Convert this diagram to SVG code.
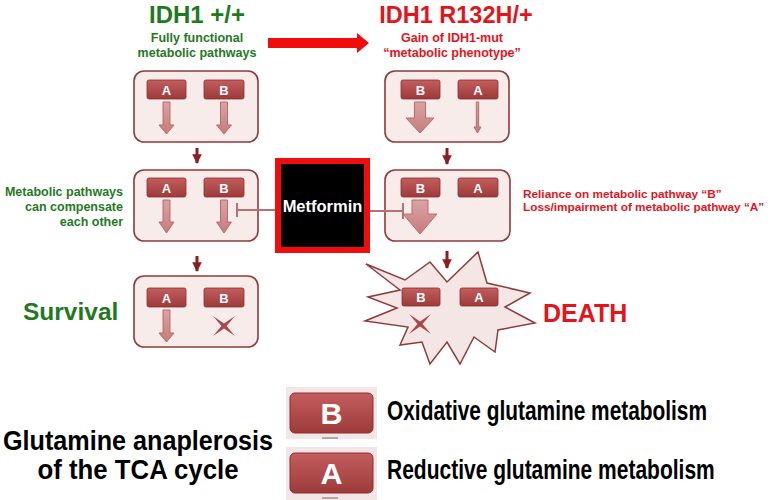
<svg xmlns="http://www.w3.org/2000/svg" width="780" height="500" viewBox="0 0 780 500">
<defs>
<linearGradient id="bg" x1="0" y1="0" x2="0" y2="1">
<stop offset="0" stop-color="#c45e5e"/><stop offset="1" stop-color="#9c3a3a"/>
</linearGradient>
<linearGradient id="ag" x1="0" y1="0" x2="0" y2="1">
<stop offset="0" stop-color="#d9a3a3"/><stop offset="1" stop-color="#c77c7c"/>
</linearGradient>
<marker id="dh" viewBox="0 0 10 10" refX="9" refY="5" markerWidth="3.2" markerHeight="3.2" orient="auto" markerUnits="strokeWidth">
<path d="M0,0 L10,5 L0,10 z" fill="#8b1e1e"/>
</marker>
</defs>
<style>
text{font-family:"Liberation Sans",Arial,Helvetica,sans-serif;font-weight:bold}
.box{fill:#f7ecea;stroke:#8e3b3b;stroke-width:1.6}
.badge{fill:url(#bg);stroke:#8a2f2f;stroke-width:0.8}
.bl{fill:#fff;font-size:13px;text-anchor:middle}
.arr{fill:url(#ag);stroke:#b86262;stroke-width:0.9}
.xm{fill:#a84848}
.green{fill:#1f7a1f}
.red{fill:#e5141c}
.conn{stroke:#8b1e1e;stroke-width:3;fill:none}
.inh{stroke:#b87070;stroke-width:2;fill:none}
.lbadge{fill:url(#bg);stroke:#8a2f2f;stroke-width:1}
.lback{fill:#f4e6e6}
.ll{fill:#fff;font-size:30px;text-anchor:middle}
.leg{fill:#000;font-size:27px}
</style>
<rect width="780" height="500" fill="#fff"/>

<!-- headers -->
<g id="hdr-wt">
<text x="197" y="23" class="green" font-size="24" text-anchor="middle">IDH1 +/+</text>
<text x="197" y="42" class="green" font-size="12.5" text-anchor="middle">Fully functional</text>
<text x="197" y="57" class="green" font-size="12.5" text-anchor="middle">metabolic pathways</text>
</g>
<g id="hdr-mut">
<text x="456" y="23" class="red" font-size="23.5" text-anchor="middle">IDH1 R132H/+</text>
<text x="452" y="42" class="red" font-size="12.5" text-anchor="middle">Gain of IDH1-mut</text>
<text x="452" y="57" class="red" font-size="12.5" text-anchor="middle">“metabolic phenotype”</text>
</g>
<g id="big-arrow">
<polygon points="268,38 357,38 357,33 369,43 357,53 357,48 268,48" fill="#f20d0d"/>
</g>

<!-- left column -->
<g id="wt-1">
<rect class="box" x="134" y="71" width="124" height="71" rx="10"/>
<rect class="badge" x="147" y="80" width="39" height="19" rx="2"/>
<text class="bl" x="166.5" y="94.5">A</text>
<rect class="badge" x="204" y="80" width="40" height="19" rx="2"/>
<text class="bl" x="224" y="94.5">B</text>
<polygon class="arr" points="163,102 170,102 170,125 174,125 166.5,134 159,125 163,125"/>
<polygon class="arr" points="220.5,102 227.5,102 227.5,125 231.5,125 224,134 216.5,125 220.5,125"/>
</g>
<g id="wt-2">
<rect class="box" x="134" y="170" width="124" height="71" rx="10"/>
<rect class="badge" x="147" y="178" width="39" height="19" rx="2"/>
<text class="bl" x="166.5" y="192.5">A</text>
<rect class="badge" x="204" y="178" width="40" height="19" rx="2"/>
<text class="bl" x="224" y="192.5">B</text>
<polygon class="arr" points="163,200 170,200 170,222 174,222 166.5,233 159,222 163,222"/>
<polygon class="arr" points="220.5,200 227.5,200 227.5,222 231.5,222 224,233 216.5,222 220.5,222"/>
</g>
<g id="wt-3">
<rect class="box" x="134" y="276" width="124" height="71" rx="10"/>
<rect class="badge" x="147" y="288" width="39" height="19" rx="2"/>
<text class="bl" x="166.5" y="302.5">A</text>
<rect class="badge" x="204" y="288" width="40" height="19" rx="2"/>
<text class="bl" x="224" y="302.5">B</text>
<polygon class="arr" points="163,310 170,310 170,333 174,333 166.5,342 159,333 163,333"/>
<polygon class="xm" points="213,316 224,323.5 235,316 226.5,326 235,336 224,328.5 213,336 221.5,326"/>
</g>
<g id="wt-note">
<text class="green" font-size="12.5" text-anchor="end" x="123" y="196">Metabolic pathways</text>
<text class="green" font-size="12.5" text-anchor="end" x="123" y="211">can compensate</text>
<text class="green" font-size="12.5" text-anchor="end" x="123" y="226">each other</text>
</g>
<g id="survival">
<text class="green" font-size="24.5" x="23" y="320">Survival</text>
</g>

<!-- metformin -->
<g id="metformin">
<rect x="278" y="161" width="89" height="89" fill="#000" stroke="#f00d0d" stroke-width="6"/>
<text x="322.5" y="212" fill="#fff" font-size="16.5" text-anchor="middle">Metformin</text>
</g>

<!-- right column -->
<g id="mut-1">
<rect class="box" x="385" y="71" width="124" height="71" rx="10"/>
<rect class="badge" x="401" y="80" width="39" height="19" rx="2"/>
<text class="bl" x="420.5" y="94.5">B</text>
<rect class="badge" x="458" y="80" width="40" height="19" rx="2"/>
<text class="bl" x="478" y="94.5">A</text>
<polygon class="arr" points="414.5,102 425.5,102 425.5,118 434,118 420,133 406,118 414.5,118"/>
<polygon class="arr" points="476.3,102 478.7,102 478.7,127 481,127 477.5,133 474,127 476.3,127"/>
</g>
<g id="mut-2">
<rect class="box" x="385" y="170" width="125" height="71" rx="10"/>
<rect class="badge" x="401" y="178" width="39" height="19" rx="2"/>
<text class="bl" x="420.5" y="192.5">B</text>
<rect class="badge" x="458" y="178" width="40" height="19" rx="2"/>
<text class="bl" x="478" y="192.5">A</text>
<polygon class="arr" points="412,200 428,200 428,214 437,214 420,234 403,214 412,214"/>
</g>
<g id="mut-note">
<text class="red" font-size="11.8" x="523" y="198">Reliance on metabolic pathway “B”</text>
<text class="red" font-size="11.8" x="523" y="211">Loss/impairment of metabolic pathway “A”</text>
</g>
<g id="mut-3">
<polygon points="366,264 405,280 430,262 447,282 478,252 487,283 530,293 505,307 535,323 498,330 495,352 474,337 460,364 447,342 430,364 422,342 400,345 408,327 365,321 397,308 368,297 400,290" fill="#f4e6e4" stroke="#8e3b3b" stroke-width="1.5" stroke-linejoin="miter"/>
<rect class="badge" x="402" y="288" width="38" height="18" rx="2"/>
<text class="bl" x="421" y="302">B</text>
<rect class="badge" x="460" y="288" width="38" height="18" rx="2"/>
<text class="bl" x="479" y="302">A</text>
<polygon class="xm" points="409,314 420,321.5 431,314 422.5,324 431,334 420,326.5 409,334 417.5,324"/>
</g>
<g id="death">
<text class="red" font-size="25" x="543" y="322">DEATH</text>
</g>

<!-- connectors -->
<g id="connectors">
<line class="conn" x1="197" y1="148" x2="197" y2="163" marker-end="url(#dh)"/>
<line class="conn" x1="197" y1="256" x2="197" y2="271" marker-end="url(#dh)"/>
<line class="conn" x1="447" y1="148" x2="447" y2="164" marker-end="url(#dh)"/>
<line class="conn" x1="447" y1="251" x2="447" y2="268" marker-end="url(#dh)"/>
<path class="inh" d="M275,210 H237 M237,203 V217"/>
<path class="inh" d="M370,211 H403 M403,203 V219"/>
</g>

<!-- legend -->
<g id="legend-title">
<text class="leg" x="138" y="450" text-anchor="middle" textLength="270" lengthAdjust="spacingAndGlyphs">Glutamine anaplerosis</text>
<text class="leg" x="138" y="479" text-anchor="middle" textLength="201" lengthAdjust="spacingAndGlyphs">of the TCA cycle</text>
</g>
<g id="legend-b">
<rect class="lback" x="286" y="387" width="91" height="52"/>
<rect class="lbadge" x="290" y="393" width="83" height="40" rx="5"/>
<rect x="322" y="437" width="16" height="2" fill="#b9a3a3"/>
<text class="ll" x="331.5" y="424" textLength="22" lengthAdjust="spacingAndGlyphs">B</text>
<text class="leg" transform="translate(387,420) scale(0.773,1)" x="0" y="0">Oxidative glutamine metabolism</text>
</g>
<g id="legend-a">
<rect class="lback" x="286" y="447" width="91" height="53"/>
<rect class="lbadge" x="290" y="453" width="83" height="40" rx="5"/>
<rect x="322" y="497" width="16" height="2" fill="#b9a3a3"/>
<text class="ll" x="331.5" y="484" textLength="22" lengthAdjust="spacingAndGlyphs">A</text>
<text class="leg" transform="translate(387,479) scale(0.778,1)" x="0" y="0">Reductive glutamine metabolism</text>
</g>
</svg>
